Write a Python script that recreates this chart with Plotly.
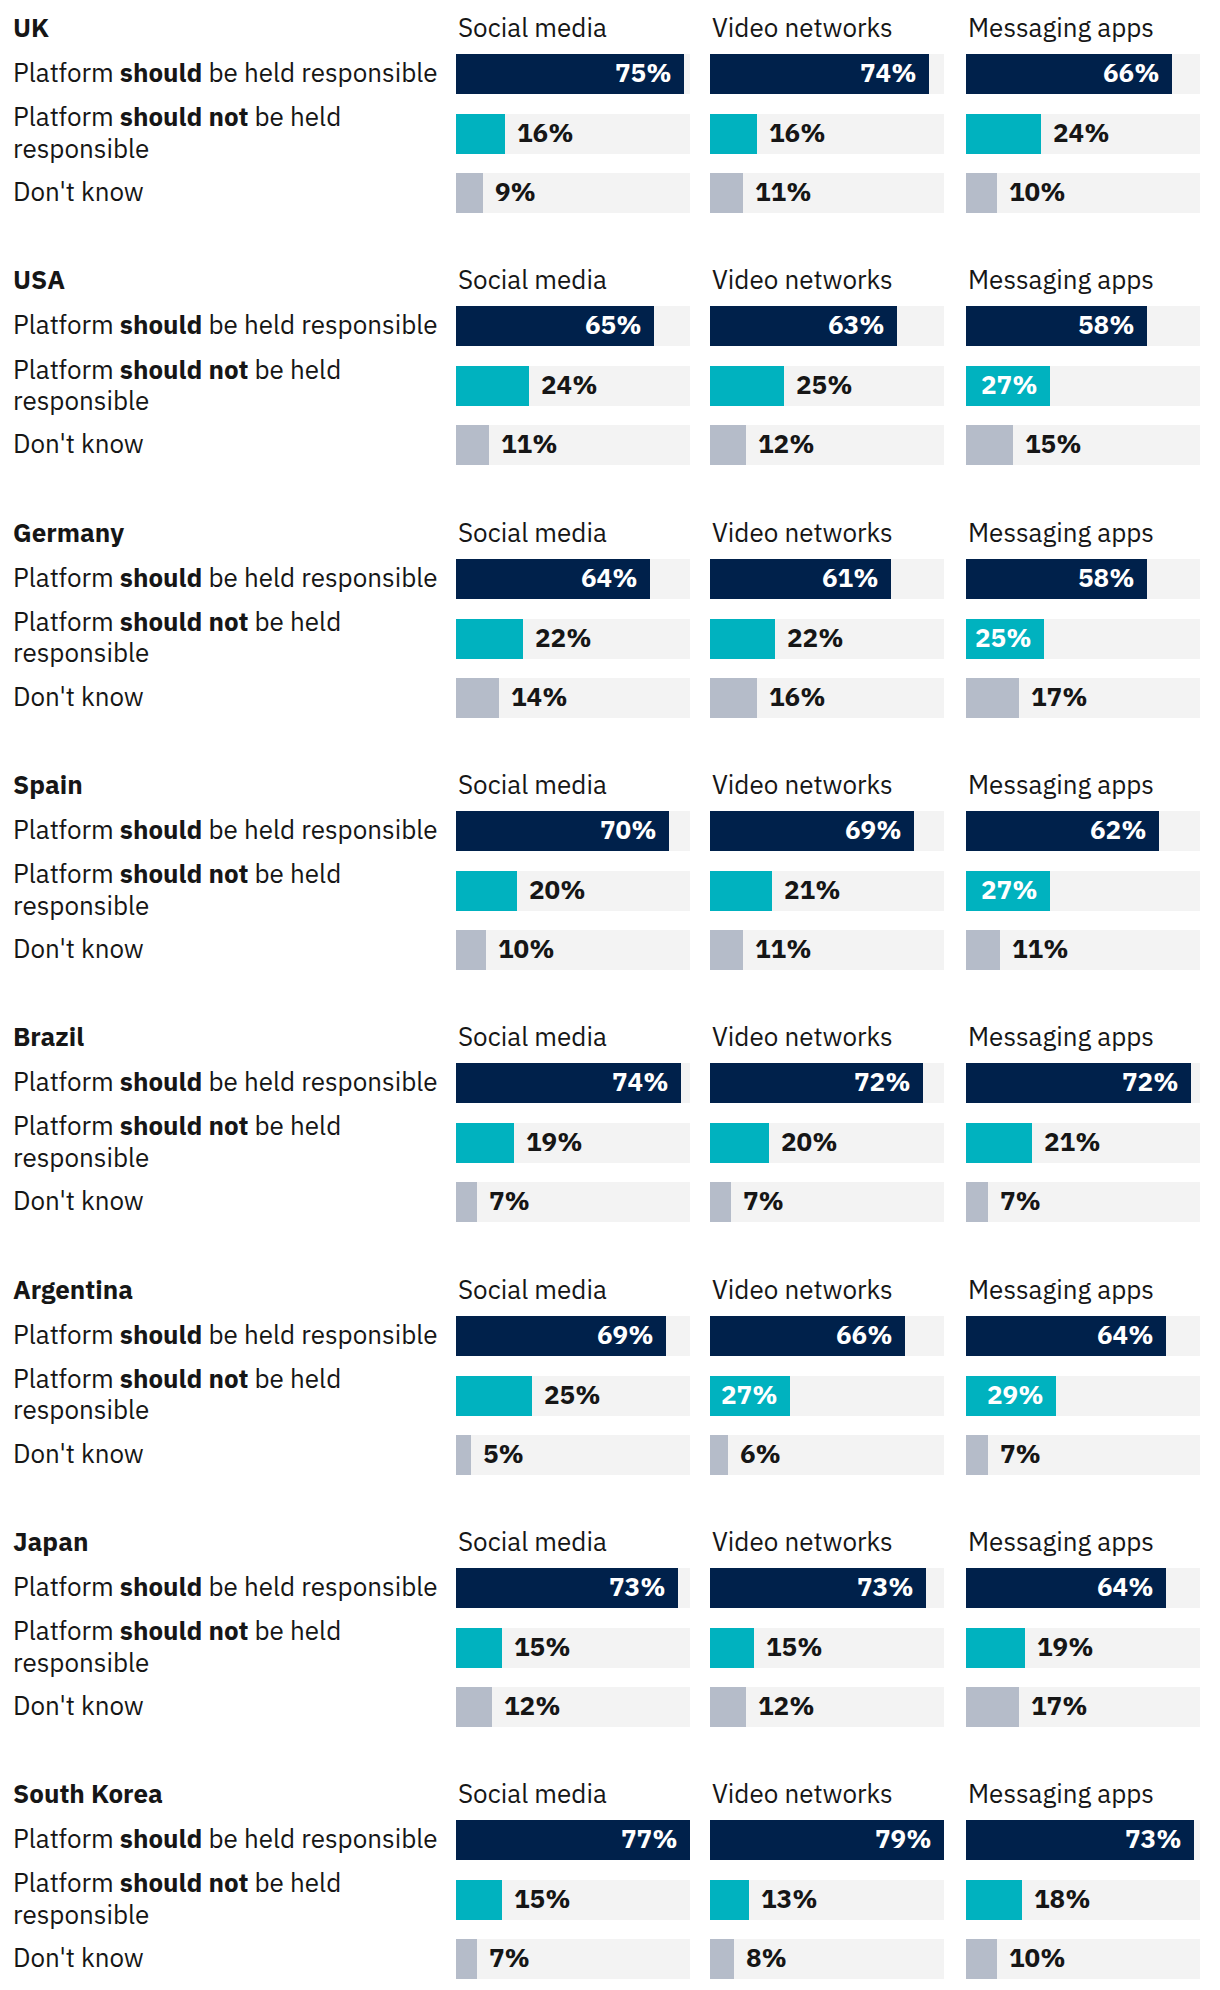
import plotly.graph_objects as go

# ---------------- data ----------------
countries = ["UK", "USA", "Germany", "Spain", "Brazil", "Argentina", "Japan", "South Korea"]
platforms = ["Social media", "Video networks", "Messaging apps"]
responses = [
    "Platform <b>should</b> be held responsible",
    "Platform <b>should not</b> be held<br>responsible",
    "Don't know",
]

social_should = [75, 65, 64, 70, 74, 69, 73, 77]
social_not = [16, 24, 22, 20, 19, 25, 15, 15]
social_dk = [9, 11, 14, 10, 7, 5, 12, 7]

video_should = [74, 63, 61, 69, 72, 66, 73, 79]
video_not = [16, 25, 22, 21, 20, 27, 15, 13]
video_dk = [11, 12, 16, 11, 7, 6, 12, 8]

msg_should = [66, 58, 58, 62, 72, 64, 64, 73]
msg_not = [24, 27, 25, 27, 21, 29, 19, 18]
msg_dk = [10, 15, 17, 11, 7, 7, 17, 10]

# ---------------- styling / layout ----------------
OFF = 8                      # default page body margin
W, H = 1220 - OFF, 1990 - OFF
FONT = "IBM Plex Sans, Roboto, Noto Sans, sans-serif"
FS = 26
TXT = "#161616"
C_SHOULD = "#00214b"
C_NOT = "#00b2bf"
C_DK = "#b5bcc9"
C_BG = "#f3f3f3"

block_y0 = 27 - OFF
block_step = 252.3
row_off = [47, 107, 166]
bar_h = 40
label_x = 11 - OFF
line_gap = 31.5              # spacing of wrapped label lines
text_lift = 2                # small upward nudge of row texts

panel_px = [(456 - OFF, 690 - OFF), (710 - OFF, 944 - OFF), (966 - OFF, 1200 - OFF)]
panel_max = [77, 79, 75]
axis_ids = ["x", "x2", "x3"]

panel_data = [
    [social_should, social_not, social_dk],
    [video_should, video_not, video_dk],
    [msg_should, msg_not, msg_dk],
]
colors = [C_SHOULD, C_NOT, C_DK]

fig = go.Figure()
annotations = []

for p, (vals3, ax) in enumerate(zip(panel_data, axis_ids)):
    ys_all = []
    for ci in range(len(countries)):
        for r in range(3):
            ys_all.append(block_y0 + block_step * ci + row_off[r])
    fig.add_trace(go.Bar(
        orientation="h", x=[panel_max[p]] * len(ys_all), y=ys_all, width=bar_h,
        marker=dict(color=C_BG, line=dict(width=0)), xaxis=ax, yaxis="y",
        hoverinfo="skip", showlegend=False,
    ))
    for r in range(3):
        vals = vals3[r]
        ys = [block_y0 + block_step * ci + row_off[r] for ci in range(len(countries))]
        fig.add_trace(go.Bar(
            orientation="h", x=vals, y=ys, width=bar_h,
            marker=dict(color=colors[r], line=dict(width=0)), xaxis=ax, yaxis="y",
            name=responses[r].replace("<br>", " "), showlegend=False,
        ))
        for v, y in zip(vals, ys):
            inside = (r == 0) or (r == 1 and v / panel_max[p] >= 0.33)
            annotations.append(dict(
                x=v, y=y, xref=ax, yref="y", text=f"<b>{v}%</b>",
                showarrow=False, xanchor="right" if inside else "left",
                xshift=-10 if inside else 10, yanchor="middle", yshift=text_lift,
                font=dict(family=FONT, size=FS, color="white" if inside else TXT),
            ))

for ci, c in enumerate(countries):
    yt = block_y0 + block_step * ci
    annotations.append(dict(
        x=label_x / W, y=yt, xref="paper", yref="y", text=f"<b>{c}</b>",
        showarrow=False, xanchor="left", yanchor="middle",
        font=dict(family=FONT, size=FS, color=TXT),
    ))
    for p, name in enumerate(platforms):
        annotations.append(dict(
            x=panel_px[p][0] / W, y=yt, xref="paper", yref="y", text=name,
            showarrow=False, xanchor="left", yanchor="middle",
            font=dict(family=FONT, size=FS, color=TXT),
        ))
    for r, lab in enumerate(responses):
        lines = lab.split("<br>")
        n = len(lines)
        for k, line in enumerate(lines):
            dy = (k - (n - 1) / 2) * line_gap
            annotations.append(dict(
                x=label_x / W, y=yt + row_off[r] + dy, xref="paper", yref="y",
                text=line, showarrow=False, xanchor="left", yanchor="middle",
                align="left", yshift=text_lift,
                font=dict(family=FONT, size=FS, color=TXT),
            ))

axis_common = dict(showgrid=False, zeroline=False, showticklabels=False,
                   showline=False, ticks="", fixedrange=True)
layout_axes = {}
for p, ax in enumerate(axis_ids):
    key = "xaxis" if ax == "x" else "xaxis" + ax[1:]
    layout_axes[key] = dict(
        domain=[panel_px[p][0] / W, panel_px[p][1] / W],
        range=[0, panel_max[p]], anchor="y", **axis_common,
    )

fig.update_layout(
    width=W, height=H,
    margin=dict(l=0, r=0, t=0, b=0),
    paper_bgcolor="white", plot_bgcolor="white",
    barmode="overlay", bargap=0,
    yaxis=dict(range=[H, 0], domain=[0, 1], **axis_common),
    annotations=annotations,
    font=dict(family=FONT, size=FS, color=TXT),
    **layout_axes,
)

fig.write_html("out.html")
